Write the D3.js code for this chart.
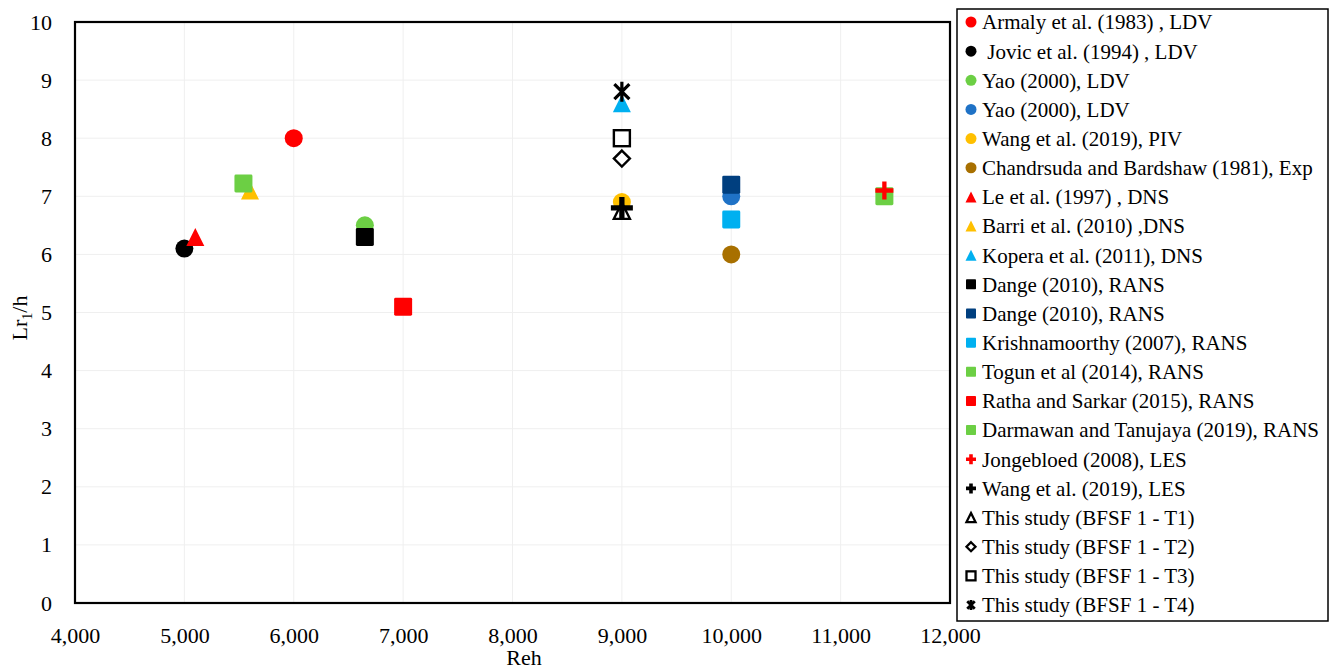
<!DOCTYPE html>
<html>
<head>
<meta charset="utf-8">
<script src="https://cdn.jsdelivr.net/npm/d3@7"></script>
<style>
  body { margin: 0; background: #fff; }
  text { font-family: "Liberation Serif", "Times New Roman", serif; fill: #000; }
</style>
</head>
<body>
<div id="chart"></div>
<script>
// series, in legend order
const seriesNames = [
  "Armaly et al. (1983) , LDV",
  " Jovic et al. (1994) , LDV",
  "Yao (2000), LDV",
  "Yao (2000), LDV",
  "Wang et al. (2019), PIV",
  "Chandrsuda and Bardshaw (1981), Exp",
  "Le et al. (1997) , DNS",
  "Barri et al. (2010) ,DNS",
  "Kopera et al. (2011), DNS",
  "Dange (2010), RANS",
  "Dange (2010), RANS",
  "Krishnamoorthy (2007), RANS",
  "Togun et al (2014), RANS",
  "Ratha and Sarkar (2015), RANS",
  "Darmawan and Tanujaya (2019), RANS",
  "Jongebloed (2008), LES",
  "Wang et al. (2019), LES",
  "This study (BFSF 1 - T1)",
  "This study (BFSF 1 - T2)",
  "This study (BFSF 1 - T3)",
  "This study (BFSF 1 - T4)"
];
const seriesShapes = [
  "circle", "circle", "circle", "circle", "circle", "circle",
  "triangle", "triangle", "triangle",
  "square", "square", "square", "square", "square", "square",
  "plus", "plus",
  "openTriangle", "openDiamond", "openSquare", "star"
];
const seriesColors = [
  "#ff0000", "#000000", "#6ccf44", "#1f72c6", "#ffc000", "#a87000",
  "#ff0000", "#ffc000", "#00b0f0",
  "#000000", "#003f7f", "#00b0f0", "#6ccf44", "#ff0000", "#6ccf44",
  "#ff0000", "#000000",
  "#000000", "#000000", "#000000", "#000000"
];
const reValues = [
  6000, 5000, 6650, 10000, 9000, 10000,
  5100, 5600, 9000,
  6650, 10000, 10000, 5540, 7000, 11400,
  11400, 9000,
  9000, 9000, 9000, 9000
];
const lrValues = [
  8.0, 6.1, 6.5, 7.0, 6.9, 6.0,
  6.3, 7.1, 8.6,
  6.3, 7.2, 6.6, 7.22, 5.1, 7.0,
  7.1, 6.8,
  6.75, 7.65, 8.0, 8.8
];
// drawing order (the black LES cross sits on top of the T1 triangle)
const drawOrder = [0,1,2,3,4,5,6,7,8,9,10,11,12,13,14,15,17,16,18,19,20];

const xTicks = [4000, 5000, 6000, 7000, 8000, 9000, 10000, 11000, 12000];
const yTicks = [0, 1, 2, 3, 4, 5, 6, 7, 8, 9, 10];

const W = 1331, H = 671;
const plot = { left: 75, right: 950, top: 22, bottom: 603 };

const svg = d3.select("#chart").append("svg")
  .attr("width", W).attr("height", H);

const x = d3.scaleLinear().domain([4000, 12000]).range([plot.left, plot.right]);
const y = d3.scaleLinear().domain([0, 10]).range([plot.bottom, plot.top]);

// gridlines
svg.append("g").selectAll("line.vg").data(xTicks).enter().append("line")
  .attr("x1", d => x(d)).attr("x2", d => x(d))
  .attr("y1", plot.top).attr("y2", plot.bottom)
  .attr("stroke", "#efefef").attr("stroke-width", 1);
svg.append("g").selectAll("line.hg").data(yTicks).enter().append("line")
  .attr("x1", plot.left).attr("x2", plot.right)
  .attr("y1", d => y(d)).attr("y2", d => y(d))
  .attr("stroke", "#efefef").attr("stroke-width", 1);

// axes
const xAxis = svg.append("g")
  .attr("transform", `translate(0, ${plot.bottom})`)
  .call(d3.axisBottom(x).tickValues(xTicks).tickFormat(d3.format(",")).tickSize(0).tickPadding(24));
const yAxis = svg.append("g")
  .attr("transform", `translate(${plot.left}, 0)`)
  .call(d3.axisLeft(y).tickValues(yTicks).tickFormat(d3.format("d")).tickSize(0).tickPadding(23));
[xAxis, yAxis].forEach(a => {
  a.select(".domain").remove();
  a.selectAll("text").style("font-family", "Liberation Serif").style("font-size", "22px").attr("fill", "#000");
});

// plot border
svg.append("rect")
  .attr("x", plot.left).attr("y", plot.top)
  .attr("width", plot.right - plot.left).attr("height", plot.bottom - plot.top)
  .attr("fill", "none").attr("stroke", "#000").attr("stroke-width", 2.2);

// axis titles
svg.append("text")
  .attr("x", 524).attr("y", 665)
  .attr("text-anchor", "middle").style("font-size", "22px")
  .text("Reh");
const yl = svg.append("text")
  .attr("transform", "translate(27, 318) rotate(-90)")
  .attr("text-anchor", "middle").style("font-size", "22px");
yl.append("tspan").text("Lr");
yl.append("tspan").attr("dy", 5).style("font-size", "14px").text("1");
yl.append("tspan").attr("dy", -5).text("/h");

// marker drawing
function drawMarker(g, shape, color, s) {
  const h = s / 2;
  const sw = Math.max(s * 0.15, 2.3);
  if (shape === "circle") {
    g.append("circle").attr("r", h).attr("fill", color);
  } else if (shape === "square") {
    g.append("rect").attr("x", -h).attr("y", -h).attr("width", s).attr("height", s)
      .attr("rx", s * 0.08).attr("fill", color);
  } else if (shape === "triangle") {
    g.append("path").attr("d", `M0,${-h}L${h},${h}L${-h},${h}Z`).attr("fill", color);
  } else if (shape === "plus") {
    const t = Math.max(s * 0.24, 3.6);
    g.append("path")
      .attr("d", `M${-t/2},${-h}h${t}v${h - t/2}h${h - t/2}v${t}h${-(h - t/2)}v${h - t/2}h${-t}v${-(h - t/2)}h${-(h - t/2)}v${-t}h${h - t/2}Z`)
      .attr("fill", color);
  } else if (shape === "openTriangle") {
    g.append("path").attr("d", `M0,${-h}L${h},${h}L${-h},${h}Z`)
      .attr("fill", "#fff").attr("stroke", color).attr("stroke-width", sw).attr("stroke-linejoin", "miter");
  } else if (shape === "openDiamond") {
    g.append("path").attr("d", `M0,${-h}L${h},0L0,${h}L${-h},0Z`)
      .attr("fill", "#fff").attr("stroke", color).attr("stroke-width", sw);
  } else if (shape === "openSquare") {
    g.append("rect").attr("x", -h).attr("y", -h).attr("width", s).attr("height", s)
      .attr("fill", "#fff").attr("stroke", color).attr("stroke-width", sw);
  } else if (shape === "star") {
    const k = h * 0.75;
    g.append("path")
      .attr("d", `M${-k},${-k}L${k},${k}M${k},${-k}L${-k},${k}M0,${-h}L0,${h}`)
      .attr("fill", "none").attr("stroke", color).attr("stroke-width", Math.max(s * 0.16, 2.8));
  }
}

const plotSize = { circle: 18, square: 18, triangle: 18, plus: 18, openTriangle: 16, openDiamond: 16, openSquare: 16, star: 20 };
const plotSizeBig = { 16: 22 }; // black LES cross is drawn larger

const points = svg.append("g");
drawOrder.forEach(i => {
  const g = points.append("g")
    .attr("transform", `translate(${x(reValues[i])}, ${y(lrValues[i])})`);
  const s = plotSizeBig[i] || plotSize[seriesShapes[i]];
  drawMarker(g, seriesShapes[i], seriesColors[i], s);
});

// legend
const lg = { left: 957, top: 9, right: 1328, bottom: 621, first: 22, step: 29.15 };
svg.append("rect")
  .attr("x", lg.left).attr("y", lg.top)
  .attr("width", lg.right - lg.left).attr("height", lg.bottom - lg.top)
  .attr("fill", "#fff").attr("stroke", "#000").attr("stroke-width", 1.5);

const legendSize = { circle: 11, square: 10, triangle: 11, plus: 10, openTriangle: 9, openDiamond: 9, openSquare: 9, star: 10 };
const rows = svg.append("g").selectAll("g").data(seriesNames).enter().append("g")
  .attr("transform", (d, i) => `translate(971, ${lg.first + i * lg.step})`);
rows.each(function(d, i) {
  drawMarker(d3.select(this), seriesShapes[i], seriesColors[i], legendSize[seriesShapes[i]]);
});
rows.append("text")
  .attr("x", 11).attr("dy", "0.35em")
  .attr("xml:space", "preserve").style("white-space", "pre")
  .style("font-size", "21px")
  .text(d => d);
</script>
</body>
</html>
